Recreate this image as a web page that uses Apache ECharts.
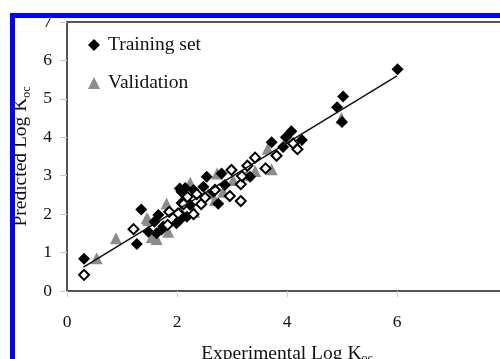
<!DOCTYPE html>
<html>
<head>
<meta charset="utf-8">
<script src="https://cdn.jsdelivr.net/npm/echarts@6/dist/echarts.min.js"></script>
<style>
  html, body { margin: 0; padding: 0; background: #fff; }
  #chart { width: 500px; height: 359px; }
</style>
</head>
<body>
<div id="chart"></div>
<script>
// Values: [experimental, predicted]
const trainingSet = [
  [0.31, 0.84], [1.27, 1.22], [1.35, 2.12], [1.48, 1.54], [1.59, 1.80],
  [1.63, 1.50], [1.66, 1.98], [1.72, 1.60], [1.75, 1.68], [1.99, 1.76],
  [2.05, 1.85], [2.05, 2.67], [2.08, 1.98], [2.08, 2.58], [2.15, 2.68],
  [2.18, 1.93], [2.24, 2.24], [2.30, 2.63], [2.48, 2.71], [2.54, 2.97],
  [2.66, 2.58], [2.75, 2.27], [2.81, 3.06], [2.87, 2.76], [3.33, 2.97],
  [3.72, 3.87], [3.93, 3.75], [3.98, 4.00], [4.08, 4.16], [4.27, 3.93],
  [4.91, 4.78], [5.02, 5.06], [5.00, 4.40], [6.01, 5.77]
];
const validationSet = [
  [0.54, 0.85], [0.89, 1.37], [1.45, 1.89], [1.48, 1.85], [1.54, 1.40],
  [1.63, 1.35], [1.81, 2.28], [1.84, 1.54], [2.24, 2.82], [2.31, 2.06],
  [2.57, 2.54], [2.69, 2.37], [2.73, 3.06], [2.84, 2.58], [3.02, 2.89],
  [3.27, 3.02], [3.42, 3.12], [3.65, 3.70], [3.72, 3.17], [4.99, 4.50]
];
const testSet = [
  [0.31, 0.42], [1.21, 1.61], [1.83, 1.72], [1.86, 2.06], [2.02, 2.02],
  [2.09, 2.29], [2.12, 2.26], [2.19, 2.45], [2.30, 2.00], [2.36, 2.52],
  [2.44, 2.26], [2.51, 2.43], [2.69, 2.63], [2.96, 2.47], [2.99, 3.15],
  [3.16, 2.78], [3.16, 2.34], [3.18, 2.99], [3.28, 3.26], [3.42, 3.47],
  [3.61, 3.19], [3.81, 3.52], [4.11, 3.84], [4.19, 3.69]
];
const fitLine = [[0.3, 0.62], [6.0, 5.6]];
const xTicks = [0, 8, 2];   // min, max, interval
const yTicks = [0, 7, 1];

const serif = "'Liberation Serif', 'Times New Roman', serif";
const chart = echarts.init(document.getElementById('chart'), null, { renderer: 'canvas' });

chart.setOption({
  animation: false,
  backgroundColor: '#fff',
  grid: {
    left: 67, top: 22, width: 440, height: 269,
    outerBoundsMode: 'none', containLabel: false,
    show: true, borderColor: '#555', borderWidth: 2
  },
  legend: {
    data: ['Training set', 'Validation'],
    orient: 'vertical',
    left: 83, top: 30,
    itemWidth: 12, itemHeight: 12, itemGap: 18,
    textStyle: { fontFamily: serif, fontSize: 19.5, color: '#111', padding: [0, 0, 0, 3] }
  },
  xAxis: {
    type: 'value',
    min: xTicks[0], max: xTicks[1], interval: xTicks[2],
    name: '{m|Experimental Log K}{s|oc}',
    nameLocation: 'middle', nameGap: 52,
    nameTextStyle: {
      rich: {
        m: { fontFamily: serif, fontSize: 19.5, color: '#111' },
        s: { fontFamily: serif, fontSize: 12, color: '#111', padding: [10, 0, 0, 0] }
      }
    },
    axisLine: { show: false },
    axisTick: { show: true, length: 6, lineStyle: { color: '#ccc' } },
    axisLabel: { fontFamily: serif, fontSize: 17.5, color: '#111', margin: 22 },
    splitLine: { show: false }
  },
  yAxis: {
    type: 'value',
    min: yTicks[0], max: yTicks[1], interval: yTicks[2],
    name: '{m|Predicted Log K}{s|oc}',
    nameLocation: 'middle', nameGap: 34, nameRotate: 90,
    nameTextStyle: {
      rich: {
        m: { fontFamily: serif, fontSize: 19.5, color: '#111' },
        s: { fontFamily: serif, fontSize: 12, color: '#111', padding: [10, 0, 0, 0] }
      }
    },
    axisLine: { show: false },
    axisTick: { show: true, length: 7, lineStyle: { color: '#ccc' } },
    axisLabel: { fontFamily: serif, fontSize: 17.5, color: '#111', margin: 15 },
    splitLine: { show: false }
  },
  series: [
    {
      name: 'Validation', type: 'scatter', symbol: 'triangle', symbolSize: 12,
      itemStyle: { color: '#8c8c8c', opacity: 1 },
      data: validationSet, z: 2
    },
    {
      name: 'Training set', type: 'scatter', symbol: 'diamond', symbolSize: 12,
      itemStyle: { color: '#000', opacity: 1 },
      data: trainingSet, z: 3
    },
    {
      name: 'Test set', type: 'scatter', symbol: 'diamond', symbolSize: 10,
      itemStyle: { color: '#fff', borderColor: '#000', borderWidth: 2, opacity: 1 },
      data: testSet, z: 4
    },
    {
      name: 'Fit', type: 'line', showSymbol: false, symbol: 'none',
      lineStyle: { color: '#111', width: 1.5 },
      data: fitLine, z: 5
    }
  ],
  graphic: [
    { type: 'rect', z: 100, shape: { x: 10, y: 13, width: 5, height: 346 }, style: { fill: '#0000ff' } },
    { type: 'rect', z: 100, shape: { x: 10, y: 13, width: 490, height: 5 }, style: { fill: '#0000ff' } },
    { type: 'rect', z: 99, shape: { x: 0, y: 0, width: 500, height: 13 }, style: { fill: '#fff' } }
  ]
});
</script>
</body>
</html>
